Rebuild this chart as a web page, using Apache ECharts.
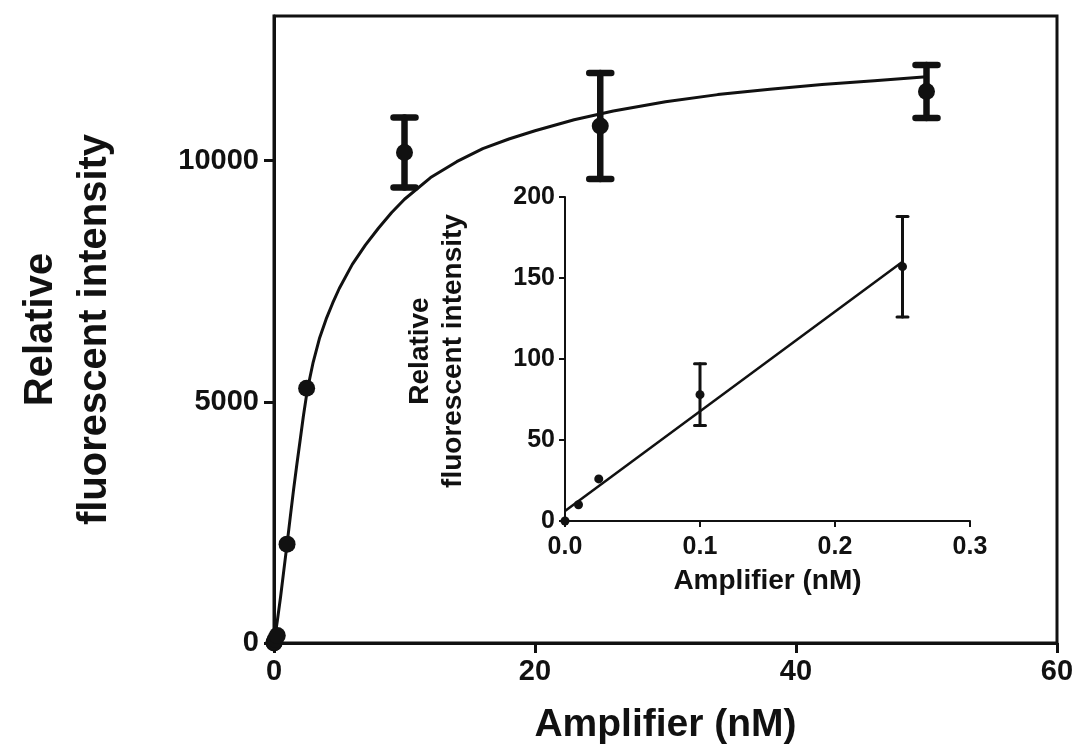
<!DOCTYPE html>
<html>
<head>
<meta charset="utf-8">
<script src="https://cdn.jsdelivr.net/npm/echarts@6/dist/echarts.min.js"></script>
<style>
html,body{margin:0;padding:0;background:#fff;}
#chart{width:1080px;height:756px;}
</style>
</head>
<body>
<div id="chart"></div>
<script>
// ---- Main plot data (x: Amplifier nM, y: relative fluorescent intensity) ----
const mainX = [0, 0.01, 0.025, 0.1, 0.25, 1, 2.5, 10, 25, 50];
const mainY = [0, 10, 26, 78, 157, 2050, 5280, 10170, 10720, 11435];
const mainErr = [0, 0, 0, 0, 0, 0, 0, 725, 1100, 550];

// fitted saturation curve
const fitX = [0, 0.25, 0.5, 0.75, 1, 1.25, 1.5, 1.75, 2, 2.25, 2.5, 2.75, 3, 3.5, 4, 4.5, 5, 6, 7, 8, 9, 10,
              12, 14, 16, 18, 20, 23, 26, 30, 34, 38, 42, 46, 50];
const fitY = [0, 450, 950, 1500, 2050, 2620, 3180, 3700, 4200, 4700, 5150, 5500, 5820, 6330, 6720, 7050, 7350, 7850, 8250, 8600, 8920, 9200,
              9650, 9980, 10250, 10450, 10620, 10850, 11030, 11220, 11370, 11480, 11580, 11660, 11740];

// ---- Inset data ----
const insetX = [0, 0.01, 0.025, 0.1, 0.25];
const insetY = [0, 10, 26, 78, 157];
const insetErr = [0, 0, 0, 19, 31];
const insetLineX = [0, 0.25];
const insetLineY = [6.2, 160];

// ---- tick labels ----
const mainXTicks = [0, 20, 40, 60];
const mainYTicks = [0, 5000, 10000];
const insetXTicks = [0, 0.1, 0.2, 0.3];
const insetYTicks = [0, 50, 100, 150, 200];

const FONT = "'Liberation Sans', Arial, Helvetica, sans-serif";
const INK = '#111';

function zip(a, b, c) { return a.map((v, i) => c ? [v, b[i], c[i]] : [v, b[i]]); }

function errRender(lineW, capW) {
  return function (params, api) {
    const x = api.value(0), y = api.value(1), e = api.value(2);
    if (!e) return null;
    const top = api.coord([x, y + e]);
    const bot = api.coord([x, y - e]);
    const h = capW / 2;
    const st = { stroke: INK, lineWidth: lineW, lineCap: 'round' };
    return {
      type: 'group',
      children: [
        { type: 'line', shape: { x1: top[0], y1: top[1], x2: bot[0], y2: bot[1] }, style: st },
        { type: 'line', shape: { x1: top[0] - h, y1: top[1], x2: top[0] + h, y2: top[1] }, style: st },
        { type: 'line', shape: { x1: bot[0] - h, y1: bot[1], x2: bot[0] + h, y2: bot[1] }, style: st }
      ]
    };
  };
}

const chart = echarts.init(document.getElementById('chart'), null, { renderer: 'canvas' });

const option = {
  backgroundColor: '#fff',
  animation: false,
  grid: [
    { left: 274, top: 16, width: 783, height: 627, show: true, borderColor: INK, borderWidth: 3, backgroundColor: 'transparent' },
    { left: 565, top: 197, width: 405, height: 324 }
  ],
  xAxis: [
    {
      type: 'value', gridIndex: 0, min: 0, max: 60, interval: 20,
      axisLine: { show: true, onZero: false, lineStyle: { color: INK, width: 3 } },
      axisTick: { show: true, length: 10, lineStyle: { color: INK, width: 3 }, customValues: mainXTicks },
      axisLabel: { customValues: mainXTicks, margin: 14, color: INK, fontFamily: FONT, fontWeight: 'bold', fontSize: 29,
        formatter: v => String(v) },
      splitLine: { show: false },
      name: 'Amplifier (nM)', nameLocation: 'middle', nameGap: 63,
      nameTextStyle: { color: INK, fontFamily: FONT, fontWeight: 'bold', fontSize: 39 }
    },
    {
      type: 'value', gridIndex: 1, min: 0, max: 0.3, interval: 0.1,
      axisLine: { show: true, onZero: false, lineStyle: { color: INK, width: 2 } },
      axisTick: { show: true, length: 6, lineStyle: { color: INK, width: 2 }, customValues: insetXTicks },
      axisLabel: { customValues: insetXTicks, margin: 14, color: INK, fontFamily: FONT, fontWeight: 'bold', fontSize: 25,
        formatter: v => Number(v).toFixed(1) },
      splitLine: { show: false },
      name: 'Amplifier (nM)', nameLocation: 'middle', nameGap: 46,
      nameTextStyle: { color: INK, fontFamily: FONT, fontWeight: 'bold', fontSize: 28 }
    }
  ],
  yAxis: [
    {
      type: 'value', gridIndex: 0, min: 0, max: 13000, interval: 5000,
      axisLine: { show: true, onZero: false, lineStyle: { color: INK, width: 3 } },
      axisTick: { show: true, length: 10, lineStyle: { color: INK, width: 3 }, customValues: mainYTicks },
      axisLabel: { customValues: mainYTicks, margin: 15, color: INK, fontFamily: FONT, fontWeight: 'bold', fontSize: 29,
        formatter: v => String(v) },
      splitLine: { show: false },
      name: 'Relative\nfluorescent intensity', nameLocation: 'middle', nameGap: 152, nameRotate: 90,
      nameTextStyle: { color: INK, fontFamily: FONT, fontWeight: 'bold', fontSize: 40, lineHeight: 54, align: 'center' }
    },
    {
      type: 'value', gridIndex: 1, min: 0, max: 200, interval: 50,
      axisLine: { show: true, onZero: false, lineStyle: { color: INK, width: 2 } },
      axisTick: { show: true, length: 6, lineStyle: { color: INK, width: 2 }, customValues: insetYTicks },
      axisLabel: { customValues: insetYTicks, margin: 10, color: INK, fontFamily: FONT, fontWeight: 'bold', fontSize: 25,
        formatter: v => String(v) },
      splitLine: { show: false },
      name: 'Relative\nfluorescent intensity', nameLocation: 'middle', nameGap: 95, nameRotate: 90,
      nameTextStyle: { color: INK, fontFamily: FONT, fontWeight: 'bold', fontSize: 28, lineHeight: 33, align: 'center',
        padding: [0, 0, 0, 16] }
    }
  ],
  series: [
    {
      type: 'line', xAxisIndex: 0, yAxisIndex: 0, data: zip(fitX, fitY), smooth: false,
      showSymbol: false, symbol: 'none', lineStyle: { color: INK, width: 3, join: 'round' }, z: 2
    },
    {
      type: 'custom', xAxisIndex: 0, yAxisIndex: 0, data: zip(mainX, mainY, mainErr),
      encode: { x: 0, y: 1 }, renderItem: errRender(6.5, 22), z: 3
    },
    {
      type: 'scatter', xAxisIndex: 0, yAxisIndex: 0, data: zip(mainX, mainY),
      symbol: 'circle', symbolSize: 17, itemStyle: { color: INK, opacity: 1 }, z: 4
    },
    {
      type: 'line', xAxisIndex: 1, yAxisIndex: 1, data: zip(insetLineX, insetLineY),
      showSymbol: false, symbol: 'none', lineStyle: { color: INK, width: 2.5 }, z: 2
    },
    {
      type: 'custom', xAxisIndex: 1, yAxisIndex: 1, data: zip(insetX, insetY, insetErr),
      encode: { x: 0, y: 1 }, renderItem: errRender(3, 11), z: 3
    },
    {
      type: 'scatter', xAxisIndex: 1, yAxisIndex: 1, data: zip(insetX, insetY),
      symbol: 'circle', symbolSize: 9, itemStyle: { color: INK, opacity: 1 }, z: 4
    }
  ]
};
chart.setOption(option);
</script>
</body>
</html>
